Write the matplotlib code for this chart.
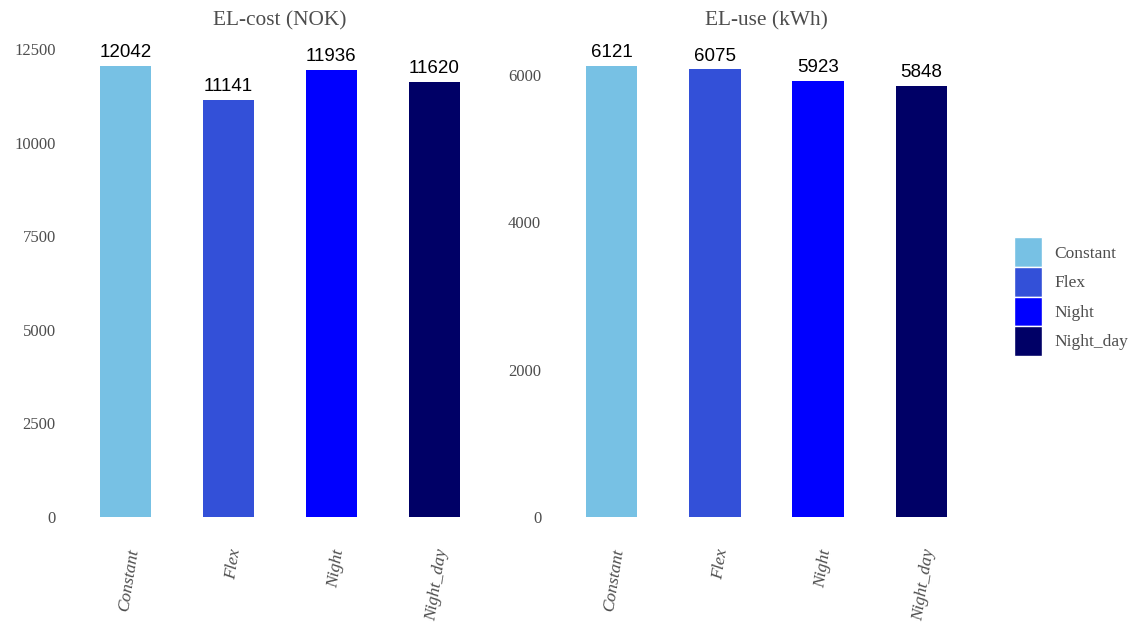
import matplotlib.pyplot as plt
from matplotlib.patches import Patch

scenarios = ['Constant', 'Flex', 'Night', 'Night_day']
colors = ['#77C1E4', '#3350D8', '#0000FF', '#000066']
el_cost = [12042, 11141, 11936, 11620]
el_use = [6121, 6075, 5923, 5848]
cost_ticks = [0, 2500, 5000, 7500, 10000, 12500]
use_ticks = [0, 2000, 4000, 6000]

serif = ['Liberation Serif', 'DejaVu Serif']
sans = ['Liberation Sans', 'DejaVu Sans']
grey = '#4d4d4d'

fig = plt.figure(figsize=(11.32, 6.22), dpi=100)
ax1 = fig.add_axes([64 / 1132, 82.5 / 622, 432 / 1132, 496 / 622])
ax2 = fig.add_axes([549.5 / 1132, 82.5 / 622, 434 / 1132, 496 / 622])


def draw_panel(ax, values, ticks, title):
    x = range(len(values))
    bars = ax.bar(x, values, width=0.5, color=colors)
    ax.set_ylim(-max(values) * 0.05, max(values) * 1.05)
    ax.set_xlim(-0.6, len(values) - 0.4)
    ax.bar_label(bars, labels=[str(v) for v in values], padding=3.5,
                 fontsize=13.5, family=sans, color='black')
    ax.set_yticks(ticks)
    ax.set_yticklabels([str(t) for t in ticks], family=serif, fontsize=12,
                       color=grey)
    ax.set_xticks(list(x))
    # va='top' with anchor mode puts the rotated text just right of the bar centre
    ax.set_xticklabels(scenarios, family=serif, fontsize=12.5, style='italic',
                       color=grey, rotation=81, ha='right', va='top',
                       rotation_mode='anchor')
    ax.tick_params(length=0)
    ax.tick_params(axis='y', pad=6)
    ax.tick_params(axis='x', pad=6)
    for s in ax.spines.values():
        s.set_visible(False)
    ax.set_title(title, family=serif, fontsize=15.4, color=grey, pad=13)


draw_panel(ax1, el_cost, cost_ticks, 'EL-cost (NOK)')
draw_panel(ax2, el_use, use_ticks, 'EL-use (kWh)')

handles = [Patch(facecolor=c, edgecolor='white', linewidth=1) for c in colors]
fig.legend(handles, scenarios, loc='center left',
           bbox_to_anchor=(1014 / 1132, 325.5 / 622), frameon=False,
           prop={'family': serif, 'size': 12.5}, labelcolor=grey,
           handlelength=1.61, handleheight=2.24, labelspacing=0.0,
           handletextpad=0.7, borderpad=0, borderaxespad=0)

fig.savefig('out.png', dpi=100)
